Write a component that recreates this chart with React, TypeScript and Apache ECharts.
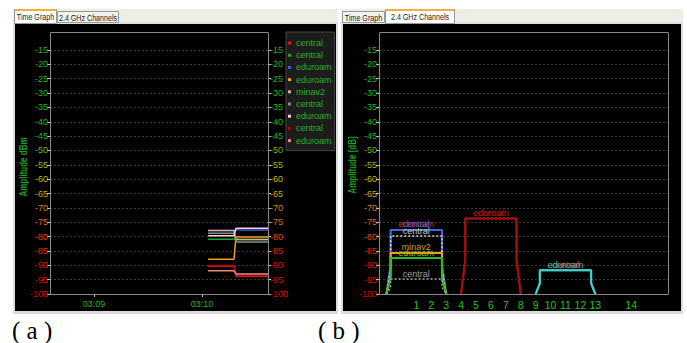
import React, { useEffect, useRef } from 'react';
import * as echarts from 'echarts';

// ---------- (a) Time graph data ----------
// sample times in seconds after 03:08:00
const timeSeconds = [123.4, 137.8, 138.9, 156.7];
const timeAxisMin = 35.6;
const timeAxisMax = 156.7;
const timeTickSeconds = [60, 120];
const timeTickLabels = ['03:09', '03:10'];

const timeNames = ['central', 'central', 'eduroam', 'eduroam', 'minav2', 'central', 'eduroam', 'central', 'eduroam'];
const timeColors = ['#ee1414', '#1ea81e', '#3c5ee8', '#f0a010', '#cdb294', '#8a8a8a', '#f6cce0', '#9c0a0a', '#e88484'];
const centralRed = [-90.3, -90.3, -93.8, -93.8];
const centralGreen = [-80.9, -80.9, -81.0, -81.0];
const eduroamBlue = [-77.9, -77.9, -77.7, -77.7];
const eduroamOrange = [-87.9, -87.9, -80.1, -80.1];
const minav2Tan = [-77.9, -77.9, -81.0, -81.0];
const centralGray = [-78.8, -78.8, -81.9, -81.9];
const eduroamPink = [-79.7, -79.7, -77.1, -77.1];
const centralDarkRed = [-90.1, -90.1, -93.3, -93.3];
const eduroamSalmon = [-91.9, -91.9, -93.0, -93.0];
const timeValues = [centralRed, centralGreen, eduroamBlue, eduroamOrange, minav2Tan, centralGray, eduroamPink, centralDarkRed, eduroamSalmon];

// ---------- (b) 2.4 GHz channels data ----------
const channelNumbers = [1, 2, 3, 4, 5, 6, 7, 8, 9, 10, 11, 12, 13, 14];
const channelFreqs = [2412, 2417, 2422, 2427, 2432, 2437, 2442, 2447, 2452, 2457, 2462, 2467, 2472, 2484];
const specNames = ['eduroam', 'central', 'central', 'minav2', 'eduroam', 'central', 'eduroam', 'central', 'eduroam', 'central'];
const specChannels = [1, 1, 1, 1, 1, 1, 6, 6, 11, 11];
const specLevels = [-77.7, -77.7, -79.8, -85.7, -87.5, -94.8, -73.7, -73.7, -91.7, -91.7];
const specColors = ['#d01818', '#3a6ae0', '#d8d8d8', '#f0a010', '#22c022', '#a0a0a0', '#a01010', '#a01010', '#40d0c8', '#40d0c8'];
const specLabelColors = ['#e02020', '#3a6ae0', '#c8c8c8', '#c89a40', '#a0b020', '#a0a0a0', '#a82020', '#a01010', '#40c8c0', '#c06060'];
const specDotted = [false, false, true, false, false, true, false, false, false, false];

const Y_MIN = -100;
const Y_MAX = -15;

const SANS = '"Liberation Sans Narrow", "Liberation Sans", Arial, sans-serif';

function levelColor(v: number): string {
  if (v >= -45) return '#22b422';
  const table: Record<string, string> = {
    '-50': '#6cb818', '-55': '#9cbc10', '-60': '#c4bc08', '-65': '#d4a808',
    '-70': '#dc8a08', '-75': '#e06808', '-80': '#e04808', '-85': '#e02a08',
    '-90': '#e01008', '-95': '#e00000', '-100': '#e00000',
  };
  return table[String(v)] || '#e00000';
}

function channelToFreq(ch: number) {
  return channelFreqs[channelNumbers.indexOf(ch)];
}

function shapeData(i: number) {
  const c = channelToFreq(specChannels[i]);
  const top = specLevels[i];
  const knee = -100 + 0.45 * (top + 100);
  return [
    [c - 10, -100],
    [c - 8.6, knee],
    [c - 8.6, top],
    {
      value: [c, top],
      label: { show: true, formatter: specNames[i], color: specLabelColors[i] },
    },
    [c + 8.6, top],
    [c + 8.6, knee],
    [c + 10, -100],
  ];
}

function yAxisBase(gridIndex: number, position: 'left' | 'right', split: boolean) {
  return {
    type: 'value',
    gridIndex,
    position,
    min: Y_MIN,
    max: Y_MAX,
    interval: 5,
    axisLine: { show: false },
    axisTick: { show: true, length: 3, lineStyle: { color: '#c8c8c8', width: 1 } },
    axisLabel: { margin: 2, fontSize: 9, fontFamily: SANS, color: (v: any) => levelColor(Number(v)) },
    splitLine: { show: split, lineStyle: { color: '#3a3a3a', type: [2, 2], width: 1 } },
  };
}

export default function App() {
  const ref = useRef<HTMLDivElement>(null);

  useEffect(() => {
    if (!ref.current) return;
    const chart = echarts.init(ref.current, undefined, { renderer: 'svg' });

    const timeSeries = timeNames.map((n, i) => ({
      name: n + '#' + i,
      type: 'line',
      xAxisIndex: 0,
      yAxisIndex: 0,
      symbol: 'none',
      color: timeColors[i],
      lineStyle: { width: 1.5, color: timeColors[i] },
      data: timeSeconds.map((t, k) => [t, timeValues[i][k]]),
      z: 3,
    }));

    const specSeries = specNames.map((n, i) => ({
      name: 'spec-' + n + '-' + i,
      type: 'line',
      xAxisIndex: 1,
      yAxisIndex: 2,
      symbol: 'circle',
      symbolSize: 0,
      showSymbol: true,
      color: specColors[i],
      itemStyle: { color: specColors[i] },
      lineStyle: { width: specDotted[i] ? 1.5 : 2, color: specColors[i], type: specDotted[i] ? [2, 2] : 'solid' },
      label: { show: false, position: 'top', distance: 1, fontSize: 9, fontFamily: SANS },
      labelLayout: { hideOverlap: false },
      data: shapeData(i),
      z: 3,
    }));

    const tabText = (x: number, y: number, text: string) => ({
      type: 'text', x, y, z: -5, scaleX: 0.75,
      style: { text, fill: '#222', font: '9.5px ' + SANS, align: 'center', verticalAlign: 'middle' },
    });

    chart.setOption({
      animation: false,
      backgroundColor: '#ffffff',
      grid: [
        { left: 50, top: 50, width: 218, height: 244 },
        { left: 379, top: 50, width: 289, height: 244 },
      ],
      xAxis: [
        {
          type: 'value', gridIndex: 0, min: timeAxisMin, max: timeAxisMax,
          axisLine: { show: false },
          axisTick: { show: true, customValues: timeTickSeconds, length: 3, lineStyle: { color: '#c8c8c8' } },
          axisLabel: {
            customValues: timeTickSeconds, margin: 5, fontSize: 9, fontFamily: SANS, color: '#22b422',
            formatter: (v: number) => timeTickLabels[timeTickSeconds.indexOf(v)] ?? '',
          },
          splitLine: { show: false },
        },
        {
          type: 'value', gridIndex: 1, min: 2399.5, max: 2496.35,
          axisLine: { show: false },
          axisTick: { show: false },
          axisLabel: {
            customValues: channelFreqs, margin: 5, fontSize: 10.5, fontFamily: SANS, color: '#22c022',
            formatter: (v: number) => String(channelNumbers[channelFreqs.indexOf(v)] ?? ''),
          },
          splitLine: { show: false },
        },
      ],
      yAxis: [yAxisBase(0, 'left', true), yAxisBase(0, 'right', false), yAxisBase(1, 'left', true)],
      legend: {
        data: timeNames.map((n, i) => n + '#' + i),
        formatter: (name: string) => name.split('#')[0],
        orient: 'vertical',
        left: 286,
        top: 32,
        icon: 'rect',
        itemWidth: 3,
        itemHeight: 3,
        itemGap: 0.2,
        padding: [5, 3, 4, 2],
        backgroundColor: '#1c1c1c',
        borderColor: '#454545',
        borderWidth: 1,
        textStyle: { color: '#22b422', fontSize: 9, lineHeight: 12, fontFamily: SANS },
        selectedMode: false,
      },
      graphic: [
        // left window
        { type: 'rect', z: -20, shape: { x: 13, y: 9, width: 325, height: 14 }, style: { fill: '#efeee6' } },
        { type: 'rect', z: -19, shape: { x: 13, y: 22, width: 325, height: 292 }, style: { fill: '#dcdcdc' } },
        { type: 'rect', z: -18, shape: { x: 15, y: 24, width: 321, height: 287 }, style: { fill: '#000000' } },
        { type: 'rect', z: -17, shape: { x: 14.5, y: 9.5, width: 42, height: 14 }, style: { fill: '#ffffff', stroke: '#919b9c', lineWidth: 1 } },
        { type: 'rect', z: -16, shape: { x: 15, y: 9, width: 41, height: 2 }, style: { fill: '#f0b040' } },
        { type: 'rect', z: -17, shape: { x: 57.5, y: 11.5, width: 61, height: 11 }, style: { fill: '#f4f3ee', stroke: '#919b9c', lineWidth: 1 } },
        tabText(35.5, 17, 'Time Graph'),
        tabText(88, 17.5, '2.4 GHz Channels'),
        // right window
        { type: 'rect', z: -20, shape: { x: 341, y: 9, width: 342, height: 14 }, style: { fill: '#efeee6' } },
        { type: 'rect', z: -19, shape: { x: 341, y: 22, width: 342, height: 292 }, style: { fill: '#dcdcdc' } },
        { type: 'rect', z: -18, shape: { x: 343, y: 24, width: 338, height: 287 }, style: { fill: '#000000' } },
        { type: 'rect', z: -17, shape: { x: 342.5, y: 11.5, width: 42, height: 11 }, style: { fill: '#f4f3ee', stroke: '#919b9c', lineWidth: 1 } },
        { type: 'rect', z: -17, shape: { x: 385.5, y: 9.5, width: 69, height: 14 }, style: { fill: '#ffffff', stroke: '#919b9c', lineWidth: 1 } },
        { type: 'rect', z: -16, shape: { x: 386, y: 9, width: 68, height: 2 }, style: { fill: '#f0b040' } },
        tabText(363.5, 17.5, 'Time Graph'),
        tabText(420, 17, '2.4 GHz Channels'),
        // plot frames
        { type: 'rect', z: 4, shape: { x: 50.5, y: 32.5, width: 218, height: 262 }, style: { fill: 'none', stroke: '#8a8a8a', lineWidth: 1 } },
        { type: 'rect', z: 4, shape: { x: 379.5, y: 32.5, width: 289, height: 262 }, style: { fill: 'none', stroke: '#8a8a8a', lineWidth: 1 } },
        // axis titles
        { type: 'text', x: 24, y: 167, rotation: Math.PI / 2, scaleX: 0.8, z: 5,
          style: { text: 'Amplitude dBm', fill: '#1ea01e', font: 'bold 10px ' + SANS, align: 'center', verticalAlign: 'middle' } },
        { type: 'text', x: 353, y: 165, rotation: Math.PI / 2, scaleX: 0.8, z: 5,
          style: { text: 'Amplitude [dB]', fill: '#1ea01e', font: 'bold 10px ' + SANS, align: 'center', verticalAlign: 'middle' } },
        // captions
        { type: 'text', x: 12, y: 330, z: 5,
          style: { text: '( a )', fill: '#000', font: '25px "Liberation Serif", "Times New Roman", serif', align: 'left', verticalAlign: 'middle' } },
        { type: 'text', x: 318, y: 330, z: 5,
          style: { text: '( b )', fill: '#000', font: '25px "Liberation Serif", "Times New Roman", serif', align: 'left', verticalAlign: 'middle' } },
      ],
      series: [...timeSeries, ...specSeries],
    } as any);

    return () => chart.dispose();
  }, []);

  return <div ref={ref} style={{ position: 'fixed', left: 0, top: 0, width: 687, height: 343 }} />;
}
